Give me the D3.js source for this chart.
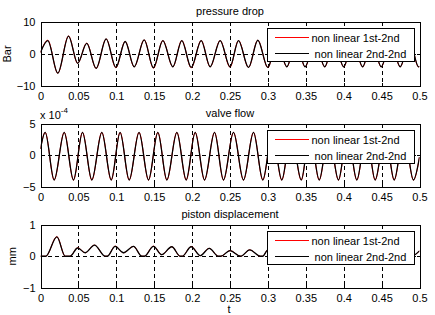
<!DOCTYPE html>
<html>

<head>
	<meta charset='utf-8'>
	<title>NonLinearPanels</title>
	<script type='text/javascript' src='https://cdn.jsdelivr.net/npm/d3@7'></script>
	<style>
		body { margin: 0; background: #fff; }
		text { font-family: 'Liberation Sans', Arial, sans-serif; font-size: 11px; fill: #000; }
	</style>
</head>

<body>
	<svg width='435' height='315'></svg>
	<script type='text/javascript'>

		// x axis ticks (time, s)
		const xTicks = [0, 0.05, 0.1, 0.15, 0.2, 0.25, 0.3, 0.35, 0.4, 0.45, 0.5]
		const legendLabels = ['non linear 1st-2nd', ' non linear 2nd-2nd']
		const seriesColors = ['#ff0000', '#000000']
		const seriesWidths = [1, 1.3]

		// pressure drop (Bar), extrema
		const tPressure = [0, 0.0096, 0.0228, 0.037, 0.049, 0.061, 0.0734, 0.0866, 0.0994, 0.1117, 0.1236, 0.1368, 0.149, 0.1614,
			0.1746, 0.1864, 0.1988, 0.212, 0.2238, 0.237, 0.25, 0.2612, 0.2744, 0.2867, 0.2999, 0.312, 0.325, 0.337, 0.349,
			0.362, 0.375, 0.387, 0.4, 0.412, 0.425, 0.437, 0.4495, 0.462, 0.4745, 0.487, 0.4987, 0.5]
		const pressure2nd = [0.5, 4.2, -6.0, 5.6, -2.9, 3.3, -4.5, 4.7, -4.2, 3.9, -4.0, 4.4, -4.3, 4.2,
			-4.0, 4.2, -4.2, 4.2, -4.0, 4.2, -4.0, 4.2, -4.2, 4.3, -4.2, 4.2, -4.0, 4.2, -4.0,
			4.2, -4.0, 4.2, -4.0, 4.2, -4.0, 4.2, -4.0, 4.2, -4.0, 4.2, -4.0, -3.9]
		const pressure1st = [0.5, 4.3, -6.0, 5.6, -2.9, 3.4, -4.5, 4.7, -4.3, 3.9, -4.0, 4.4, -4.4, 4.2,
			-4.0, 4.2, -4.3, 4.2, -4.0, 4.2, -4.1, 4.2, -4.2, 4.3, -4.2, 4.2, -4.0, 4.2, -4.0,
			4.2, -4.0, 4.2, -4.0, 4.2, -4.0, 4.2, -4.0, 4.2, -4.0, 4.2, -4.0, -3.9]

		// valve flow (x 1e-4)
		const tValve = [0, 0.0062, 0.018, 0.0313, 0.0435, 0.0554, 0.0677, 0.0809, 0.0933, 0.105, 0.117, 0.13, 0.1425, 0.1548,
			0.1667, 0.1799, 0.1922, 0.2041, 0.2164, 0.2296, 0.2414, 0.2546, 0.2678, 0.281, 0.2933, 0.3058, 0.3183, 0.3306,
			0.344, 0.3554, 0.3677, 0.3802, 0.3931, 0.405, 0.4173, 0.4298, 0.4415, 0.4546, 0.4666, 0.4794, 0.492, 0.5]
		const valve2nd = [1.0, 3.6, -3.9, 3.6, -3.9, 3.6, -3.9, 3.6, -3.9, 3.6, -3.9, 3.6, -3.9, 3.6,
			-3.9, 3.6, -3.9, 3.6, -3.9, 3.6, -3.9, 3.6, -3.9, 3.6, -3.9, 3.6, -3.9, 3.6,
			-3.9, 3.6, -3.9, 3.6, -3.9, 3.6, -3.9, 3.6, -3.9, 3.6, -3.9, 3.6, -3.9, -0.3]
		const valve1st = [1.0, 3.6, -3.9, 3.6, -3.9, 3.6, -3.9, 3.6, -3.9, 3.6, -3.9, 3.6, -3.9, 3.6,
			-3.9, 3.6, -3.9, 3.6, -3.9, 3.6, -3.9, 3.6, -3.9, 3.6, -3.9, 3.6, -3.9, 3.6,
			-3.9, 3.6, -3.9, 3.6, -3.9, 3.6, -3.9, 3.6, -3.9, 3.6, -3.9, 3.6, -3.9, -0.3]

		// piston displacement (mm)
		const tPiston = [0, 0.007, 0.0216, 0.0326, 0.039, 0.049, 0.059, 0.0712, 0.0853, 0.088, 0.0985, 0.1095, 0.1227, 0.1337,
			0.137, 0.149, 0.16, 0.1732, 0.1843, 0.187, 0.1988, 0.2107, 0.2226, 0.2348, 0.238, 0.25, 0.264, 0.276, 0.29,
			0.293, 0.3, 0.311, 0.323, 0.336, 0.339, 0.35, 0.361, 0.373, 0.386, 0.389, 0.4, 0.411, 0.423, 0.436, 0.439,
			0.45, 0.461, 0.473, 0.486, 0.489, 0.5]
		const piston2nd = [0, 0, 0.61, 0, 0, 0.26, 0.11, 0.35, 0, 0, 0.31, 0.11, 0.31, 0,
			0, 0.31, 0.05, 0.3, 0, 0, 0.3, 0.02, 0.25, 0, 0, 0.18, 0, 0.2, 0,
			0, 0.2, 0.02, 0.2, 0, 0, 0.2, 0.02, 0.2, 0, 0, 0.2, 0.02, 0.2, 0, 0,
			0.2, 0.02, 0.2, 0, 0, 0.17]
		const piston1st = [0, 0, 0.62, 0, 0, 0.27, 0.11, 0.35, 0, 0, 0.32, 0.11, 0.31, 0,
			0, 0.32, 0.05, 0.3, 0, 0, 0.31, 0.02, 0.25, 0, 0, 0.18, 0, 0.2, 0,
			0, 0.2, 0.02, 0.2, 0, 0, 0.2, 0.02, 0.2, 0, 0, 0.2, 0.02, 0.2, 0, 0,
			0.2, 0.02, 0.2, 0, 0, 0.17]

		const panels = [
			{ title: 'pressure drop', top: 22, bottom: 86, yTicks: [-10, 0, 10], ylabel: 'Bar', ylabelX: 11,
				t: tPressure, series: [pressure1st, pressure2nd] },
			{ title: 'valve flow', top: 123.5, bottom: 187, yTicks: [-5, 0, 5], ylabel: null, exponent: '-4',
				t: tValve, series: [valve1st, valve2nd] },
			{ title: 'piston displacement', top: 224.5, bottom: 288, yTicks: [-1, 0, 1], ylabel: 'mm', ylabelX: 16,
				t: tPiston, series: [piston1st, piston2nd] }
		]

		const svg = d3.select('svg')
		const xScale = d3.scaleLinear().domain([0, 0.5]).range([40.5, 419.5])

		panels.forEach((p, i) => {
			const yScale = d3.scaleLinear().domain([p.yTicks[0], p.yTicks[2]]).range([p.bottom, p.top])
			const g = svg.append('g')
			const clipId = 'clip' + i

			g.append('clipPath').attr('id', clipId).append('rect')
				.attr('x', 40.5).attr('y', p.top).attr('width', 379).attr('height', p.bottom - p.top)

			//网格线
			g.append('g').selectAll('line').data(xTicks.slice(1, -1)).enter().append('line')
				.attr('x1', d => Math.round(xScale(d)) + 0.5).attr('x2', d => Math.round(xScale(d)) + 0.5)
				.attr('y1', p.top).attr('y2', p.bottom)
				.attr('stroke', '#000').attr('stroke-dasharray', '4,3').attr('shape-rendering', 'crispEdges')
			g.append('line')
				.attr('x1', 40.5).attr('x2', 419.5)
				.attr('y1', Math.round(yScale(0)) + 0.5).attr('y2', Math.round(yScale(0)) + 0.5)
				.attr('stroke', '#000').attr('stroke-dasharray', '4,3').attr('shape-rendering', 'crispEdges')

			//曲线
			const line = d3.line().x(d => xScale(d[0])).y(d => yScale(d[1])).curve(d3.curveMonotoneX)
			p.series.forEach((vals, k) => {
				g.append('path')
					.attr('d', line(p.t.map((t, j) => [t, vals[j]])))
					.attr('fill', 'none').attr('stroke', seriesColors[k]).attr('stroke-width', seriesWidths[k])
					.attr('clip-path', `url(#${clipId})`)
			})

			//坐标轴 (box, ticks inside)
			const xAxisB = d3.axisBottom(xScale).tickValues(xTicks).tickSize(-3).tickPadding(6).tickFormat(d3.format('~g'))
			const xAxisT = d3.axisTop(xScale).tickValues(xTicks).tickSize(-3).tickFormat('')
			const yAxisL = d3.axisLeft(yScale).tickValues(p.yTicks).tickSize(-3).tickPadding(5).tickFormat(d => d3.format('~g')(d))
			const yAxisR = d3.axisRight(yScale).tickValues(p.yTicks).tickSize(-3).tickFormat('')

			const axB = g.append('g').attr('transform', `translate(0, ${p.bottom})`).call(xAxisB)
			g.append('g').attr('transform', `translate(0, ${p.top})`).call(xAxisT)
			g.append('g').attr('transform', 'translate(40.5, 0)').call(yAxisL)
			g.append('g').attr('transform', 'translate(419.5, 0)').call(yAxisR)
			g.selectAll('.domain').attr('stroke', '#000').attr('shape-rendering', 'crispEdges')
			g.selectAll('.tick line').attr('stroke', '#000').attr('shape-rendering', 'crispEdges')
			g.selectAll('.tick text').attr('font-size', '11px').attr('font-family', "'Liberation Sans', Arial, sans-serif").attr('fill', '#000')
			axB.selectAll('.tick text').attr('dy', '0.75em')

			//标题
			g.append('text').attr('x', 230).attr('y', p.top - 7).attr('text-anchor', 'middle').text(p.title)

			if (p.ylabel) {
				g.append('text').attr('transform', `translate(${p.ylabelX}, ${(p.top + p.bottom) / 2}) rotate(-90)`)
					.attr('text-anchor', 'middle').text(p.ylabel)
			}
			if (p.exponent) {
				const e = g.append('text').attr('x', 40).attr('y', p.top - 5)
				e.append('tspan').text('x 10')
				e.append('tspan').attr('dy', -6).attr('font-size', '8px').text(p.exponent)
			}

			//图例
			const lg = g.append('g').attr('transform', `translate(267.5, ${Math.round(p.top) + 6.5})`)
			lg.append('rect').attr('width', 147).attr('height', 33).attr('fill', '#fff').attr('stroke', '#000')
				.attr('shape-rendering', 'crispEdges')
			legendLabels.forEach((label, k) => {
				const y = 9 + k * 16
				lg.append('line').attr('x1', 7).attr('x2', 41).attr('y1', y).attr('y2', y)
					.attr('stroke', seriesColors[k]).attr('stroke-width', 1).attr('shape-rendering', 'crispEdges')
				lg.append('text').attr('x', 44).attr('y', y + 4).attr('xml:space', 'preserve')
					.style('white-space', 'pre').text(label)
			})
		})

		svg.append('text').attr('x', 229).attr('y', 313).attr('text-anchor', 'middle').text('t')

	</script>
</body>

</html>
